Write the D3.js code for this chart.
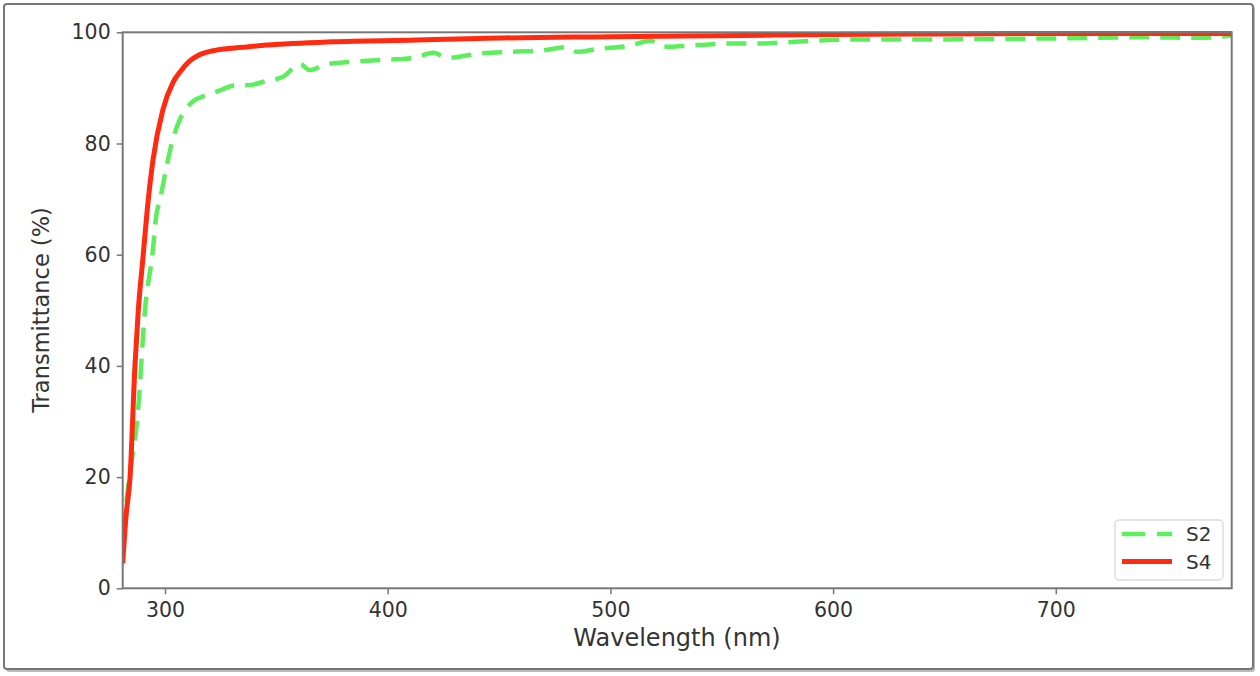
<!DOCTYPE html>
<html><head><meta charset="utf-8">
<script src="https://cdn.jsdelivr.net/npm/d3@7"></script>
<style>html,body{margin:0;padding:0;background:#fff}svg{display:block}</style>
</head><body>
<svg id="c" width="1260" height="676"></svg>
<script>
// Data (wavelength nm, transmittance %)
const s2Wavelength = [281,284,287.8,291,294.6,296,297.8,300.8,303,306.3,309,312.3,318.8,325,330.6,338,345,353,360.6,365,372,381,396.6,411.6,420.6,426.6,441.6,456.5,471,480,485,494,509,518,524,539,554,568,583,598,612,640,670,700,740,765,779];
const s2Values = [10,20,31.5,50,61,66.8,70,76,80,84,86,87.5,88.7,89.6,90.4,90.5,91.2,92,94.3,93.2,94.2,94.6,95,95.4,96.3,95.4,96.2,96.5,96.8,97.3,96.5,97,97.6,98.5,97.4,97.7,98,98,98.3,98.6,98.7,98.7,98.8,98.9,99.1,99.0,99.4];
const s4Wavelength = [281,282.5,284.3,286.5,288,290,292,294.6,299,303.6,307,311,315.7,323,335,345.7,375,413,441,500,550,600,650,700,779];
const s4Values = [4.5,13,20,40,50,59,68,77,86,91,93,94.8,96,96.8,97.3,97.7,98.3,98.6,98.9,99.2,99.4,99.6,99.7,99.8,99.8];
const xTicks = [300,400,500,600,700];
const yTicks = [0,20,40,60,80,100];
const seriesNames = ["S2","S4"];

const svg = d3.select("#c");
const L = 122.7, R = 1231.7, T = 32.3, B = 588.3;
const x = d3.scaleLinear().domain([281,779]).range([L,R]);
const y = d3.scaleLinear().domain([0,100]).range([B,T]);

// outer frame
svg.append("rect").attr("x",6).attr("y",6).attr("width",1249).attr("height",666).attr("rx",3)
  .attr("fill","#bbb");
svg.append("rect").attr("x",4).attr("y",4).attr("width",1249).attr("height",665).attr("rx",3)
  .attr("fill","#fff").attr("stroke","#777").attr("stroke-width",2);

const font = "DejaVu Sans, sans-serif";

svg.append("clipPath").attr("id","pc").append("rect")
  .attr("x",L).attr("y",T-4).attr("width",R-L).attr("height",B-T+4);

const line = d3.line().x(d=>x(d[0])).y(d=>y(d[1])).curve(d3.curveMonotoneX);
const g = svg.append("g").attr("clip-path","url(#pc)");
g.append("path").datum(d3.zip(s2Wavelength,s2Values)).attr("d",line)
  .attr("fill","none").attr("stroke","#5cee5c").attr("stroke-width",4.5)
  .attr("stroke-dasharray","20,11");
g.append("path").datum(d3.zip(s4Wavelength,s4Values)).attr("d",line)
  .attr("fill","none").attr("stroke","#ff2a10").attr("stroke-width",5)
  .attr("stroke-linejoin","round");

// spines
svg.append("rect").attr("x",L).attr("y",T).attr("width",R-L).attr("height",B-T)
  .attr("fill","none").attr("stroke","#777").attr("stroke-width",2);

// axes
const xa = svg.append("g").attr("transform",`translate(0,${B})`)
  .call(d3.axisBottom(x).tickValues(xTicks).tickSize(6).tickPadding(6).tickSizeOuter(0));
const ya = svg.append("g").attr("transform",`translate(${L},0)`)
  .call(d3.axisLeft(y).tickValues(yTicks).tickSize(6).tickPadding(6).tickSizeOuter(0));
[xa,ya].forEach(a=>{
  a.select(".domain").remove();
  a.selectAll("line").attr("stroke","#777").attr("stroke-width",1.5);
  a.selectAll("text").attr("fill","#333").style("font-family",font).style("font-size","20.5px");
});
xa.selectAll("text").attr("dy","0.8em");

svg.append("text").attr("x",677).attr("y",646).attr("text-anchor","middle")
  .style("font-family",font).style("font-size","24px").attr("fill","#333")
  .text("Wavelength (nm)");
svg.append("text").attr("transform","translate(49,310) rotate(-90)").attr("text-anchor","middle")
  .style("font-family",font).style("font-size","22.5px").attr("fill","#333")
  .text("Transmittance (%)");

// legend
const lg = svg.append("g");
lg.append("rect").attr("x",1115).attr("y",520).attr("width",108).attr("height",60).attr("rx",4)
  .attr("fill","#fff").attr("stroke","#ddd").attr("stroke-width",1.5);
const styles = [{c:"#5cee5c",d:"23,12",w:4.5},{c:"#ff2a10",d:null,w:5}];
seriesNames.forEach((n,i)=>{
  const yy = 534 + i*27.5;
  lg.append("line").attr("x1",1122).attr("x2",1172).attr("y1",yy).attr("y2",yy)
    .attr("stroke",styles[i].c).attr("stroke-width",styles[i].w)
    .attr("stroke-dasharray",styles[i].d);
  lg.append("text").attr("x",1186).attr("y",yy).attr("dy","0.36em")
    .style("font-family",font).style("font-size","20px").attr("fill","#333").text(n);
});
</script>
</body></html>
